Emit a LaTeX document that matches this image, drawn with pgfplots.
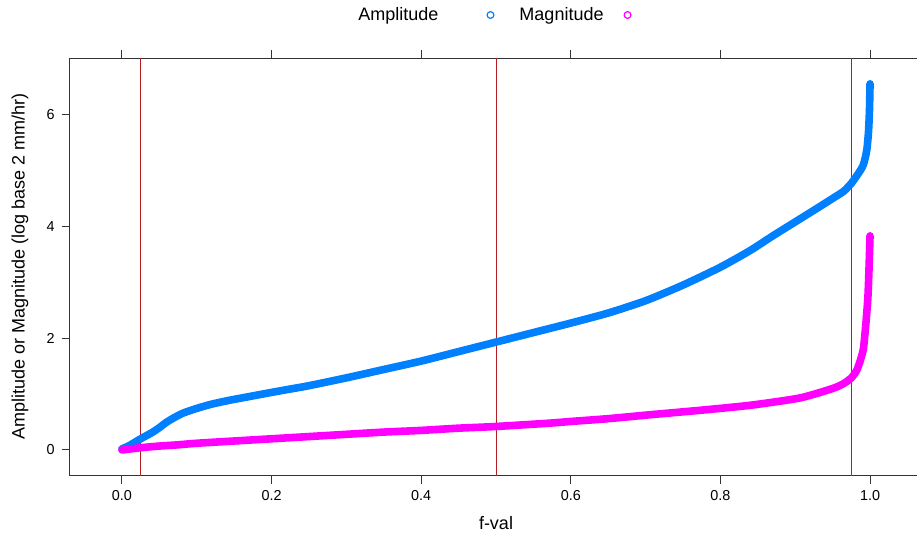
\documentclass[border=0pt]{standalone}
\usepackage{pgfplots}
\pgfplotsset{compat=1.18}
\usepackage{fontspec}
\setmainfont{Liberation Sans}
\definecolor{amp}{RGB}{0,128,255}
\definecolor{mag}{RGB}{255,0,255}
\definecolor{vl}{RGB}{180,30,30}
\begin{document}
\begin{tikzpicture}
\begin{axis}[
  scale only axis, width=426.4pt, height=208.7pt,
  xmin=-0.07, xmax=1.07, ymin=-0.4585, ymax=7.0085,
  xtick={0,0.2,0.4,0.6,0.8,1}, xticklabels={0.0,0.2,0.4,0.6,0.8,1.0},
  ytick={0,2,4,6},
  /pgf/number format/assume math mode=true,
  tick align=outside, major tick length=4pt,
  tick style={black!80, line width=0.5pt},
  axis line style={black!80, line width=0.5pt},
  ticklabel style={font=\fontsize{7.2}{8}\selectfont},
  label style={font=\fontsize{9}{10}\selectfont},
  xlabel={f-val},
  ylabel={Amplitude or Magnitude (log base 2 mm/hr)},
  xlabel style={at={(axis description cs:0.5,0)}, anchor=center, yshift=-23.7pt},
  ylabel style={at={(axis description cs:0,0.5)}, anchor=center, rotate=0, yshift=24.8pt},
  legend columns=2, legend plot pos=right,
  legend style={draw=none, fill=none, at={(0.5,1)}, anchor=center, yshift=21.6pt, xshift=-1.5pt,
    font=\fontsize{9}{10}\selectfont, column sep=0pt},
]
\addplot[vl, line width=0.5pt, forget plot] coordinates {(0.025,-1) (0.025,8)};
\addplot[vl, line width=0.5pt, forget plot] coordinates {(0.5,-1) (0.5,8)};
\addplot[vl, line width=0.5pt, forget plot] coordinates {(0.975,-1) (0.975,8)};
\addplot[amp, line width=3.8pt, line cap=round, line join=round, smooth, tension=0.4, forget plot] coordinates {
(0,0.02) (0.01,0.08) (0.025,0.2) (0.04,0.31) (0.05,0.40) (0.06,0.50) (0.07,0.58)
(0.08,0.65) (0.09,0.70) (0.104,0.76) (0.12,0.82) (0.144,0.89) (0.16,0.93)
(0.184,0.99) (0.2,1.03) (0.225,1.09) (0.25,1.15) (0.3,1.29) (0.35,1.44)
(0.4,1.59) (0.45,1.76) (0.5,1.93) (0.55,2.10) (0.6,2.27) (0.65,2.45)
(0.7,2.67) (0.75,2.95) (0.8,3.27) (0.84,3.57) (0.87,3.83) (0.9,4.08)
(0.93,4.33) (0.95,4.50) (0.965,4.63) (0.975,4.77) (0.982,4.90) (0.987,5.00)
(0.991,5.10) (0.994,5.25) (0.996,5.40) (0.998,5.70) (0.9993,6.10) (1.0,6.55)
};
\addplot[mag, line width=3.8pt, line cap=round, line join=round, smooth, tension=0.4, forget plot] coordinates {
(0,0.0) (0.025,0.04) (0.05,0.07) (0.073,0.09) (0.1,0.12) (0.162,0.17)
(0.2,0.2) (0.25,0.24) (0.3,0.28) (0.35,0.32) (0.4,0.35) (0.45,0.39)
(0.5,0.42) (0.572,0.48) (0.6,0.51) (0.65,0.56) (0.706,0.63) (0.773,0.71)
(0.84,0.80) (0.906,0.93) (0.95,1.10) (0.965,1.19) (0.975,1.29) (0.982,1.42)
(0.987,1.60) (0.991,1.80) (0.993,2.05) (0.995,2.35) (0.997,2.70) (0.998,3.0)
(0.999,3.4) (1.0,3.83)
};
\addlegendimage{legend image code/.code={\path[draw=none,fill=none] (0pt,0pt) -- (36.5pt,0pt); \draw[amp, line width=0.6pt] plot[only marks, mark=o, mark size=1.7pt] coordinates {(24pt,0pt)};}}
\addlegendentry{Amplitude}
\addlegendimage{legend image code/.code={\path[draw=none,fill=none] (0pt,0pt) -- (12pt,0pt); \draw[mag, line width=0.6pt] plot[only marks, mark=o, mark size=1.7pt] coordinates {(10pt,0pt)};}}
\addlegendentry{Magnitude}
\end{axis}
\pgfresetboundingbox
\path[use as bounding box] (current axis.south west) ++(-34.8pt,-32.2pt) rectangle ++(458.5pt,270pt);
\end{tikzpicture}
\end{document}
